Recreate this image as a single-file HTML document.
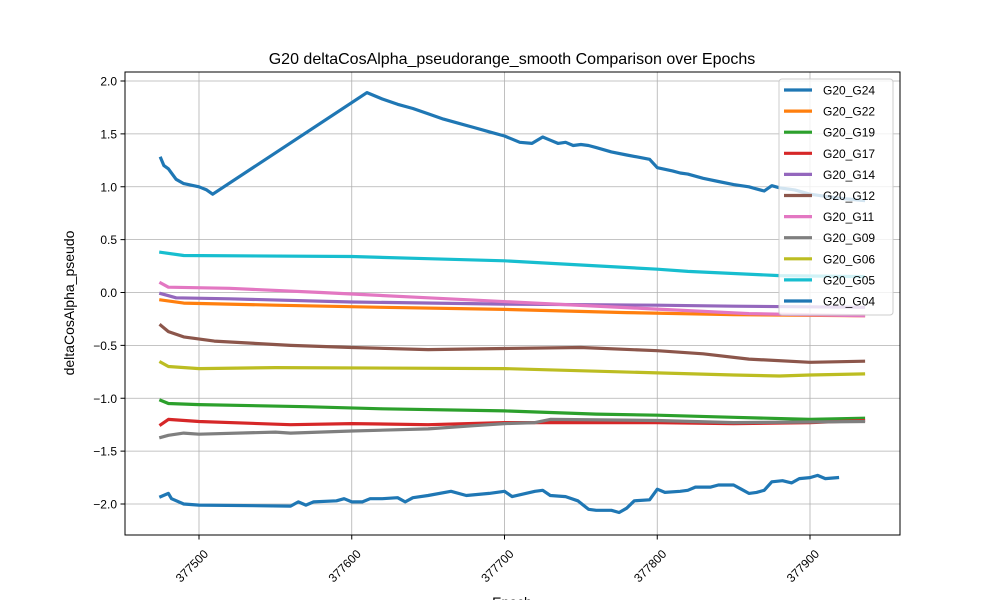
<!DOCTYPE html>
<html><head><meta charset="utf-8"><style>
body{margin:0;background:#fff;}
svg text{font-family:"Liberation Sans","DejaVu Sans",sans-serif;}
</style></head><body>
<svg id="chart" width="1000" height="600" xmlns="http://www.w3.org/2000/svg">
<rect width="1000" height="600" fill="#fff"/>
<text x="512" y="64" font-size="16" text-anchor="middle">G20 deltaCosAlpha_pseudorange_smooth Comparison over Epochs</text>
<g id="grid"></g><g id="series"></g>
<rect x="125" y="72" width="775" height="463" fill="none" stroke="#000" stroke-width="1"/>
<g id="axes"></g>
<text x="74" y="303" font-size="14" text-anchor="middle" transform="rotate(-90 74 303)">deltaCosAlpha_pseudo</text>
<text x="512" y="607" font-size="14" text-anchor="middle">Epoch</text>
<g id="legend"></g>
</svg>
<script>
const xTicks=[377500,377600,377700,377800,377900];
const yTicks=[2.0,1.5,1.0,0.5,0.0,-0.5,-1.0,-1.5,-2.0];
const seriesNames=["G20_G24","G20_G22","G20_G19","G20_G17","G20_G14","G20_G12","G20_G11","G20_G09","G20_G06","G20_G05","G20_G04"];
const seriesColors=["#1f77b4","#ff7f0e","#2ca02c","#d62728","#9467bd","#8c564b","#e377c2","#7f7f7f","#bcbd22","#17becf","#1f77b4"];
const g24E=[377475,377477,377480,377485,377490,377500,377505,377509,377610,377620,377630,377640,377650,377660,377670,377680,377690,377700,377710,377718,377725,377730,377735,377740,377745,377750,377755,377760,377770,377780,377795,377800,377810,377815,377820,377830,377840,377850,377860,377865,377870,377875,377880,377890,377900,377920,377935];
const g24V=[1.27,1.2,1.17,1.07,1.03,1.0,0.97,0.93,1.89,1.83,1.78,1.74,1.69,1.64,1.6,1.56,1.52,1.48,1.42,1.41,1.47,1.44,1.41,1.42,1.39,1.4,1.39,1.37,1.33,1.3,1.26,1.18,1.15,1.13,1.12,1.08,1.05,1.02,1.0,0.98,0.96,1.01,0.99,0.97,0.93,0.89,0.87];
const g22E=[377475,377490,377550,377620,377700,377780,377850,377935];
const g22V=[-0.07,-0.1,-0.12,-0.14,-0.16,-0.19,-0.21,-0.22];
const g19E=[377475,377480,377500,377570,377620,377700,377760,377800,377850,377900,377935];
const g19V=[-1.02,-1.05,-1.06,-1.08,-1.1,-1.12,-1.15,-1.16,-1.18,-1.2,-1.19];
const g17E=[377475,377480,377500,377560,377600,377650,377700,377800,377850,377900,377935];
const g17V=[-1.25,-1.2,-1.22,-1.25,-1.24,-1.25,-1.23,-1.23,-1.24,-1.23,-1.21];
const g14E=[377475,377485,377520,377600,377700,377800,377850,377935];
const g14V=[-0.01,-0.05,-0.06,-0.09,-0.11,-0.12,-0.13,-0.14];
const g12E=[377475,377480,377490,377510,377560,377600,377650,377700,377750,377800,377830,377860,377900,377935];
const g12V=[-0.31,-0.37,-0.42,-0.46,-0.5,-0.52,-0.54,-0.53,-0.52,-0.55,-0.58,-0.63,-0.66,-0.65];
const g11E=[377475,377480,377520,377580,377650,377720,377790,377860,377935];
const g11V=[0.09,0.05,0.04,0.0,-0.05,-0.1,-0.15,-0.2,-0.22];
const g09E=[377475,377480,377490,377500,377550,377560,377600,377650,377680,377700,377720,377730,377800,377850,377935];
const g09V=[-1.37,-1.35,-1.33,-1.34,-1.32,-1.33,-1.31,-1.29,-1.26,-1.24,-1.23,-1.2,-1.21,-1.23,-1.22];
const g06E=[377475,377480,377500,377550,377700,377800,377850,377880,377900,377935];
const g06V=[-0.66,-0.7,-0.72,-0.71,-0.72,-0.76,-0.78,-0.79,-0.78,-0.77];
const g05E=[377475,377490,377600,377650,377700,377750,377800,377820,377880,377935];
const g05V=[0.38,0.35,0.34,0.32,0.3,0.26,0.22,0.2,0.16,0.15];
const g04E=[377475,377480,377482,377490,377500,377560,377565,377570,377575,377590,377595,377600,377607,377612,377620,377630,377635,377640,377650,377665,377675,377690,377700,377705,377720,377725,377730,377740,377748,377755,377760,377770,377775,377780,377785,377795,377800,377805,377815,377820,377825,377835,377840,377850,377855,377860,377865,377870,377875,377882,377888,377893,377900,377905,377910,377918];
const g04V=[-1.93,-1.9,-1.95,-2.0,-2.01,-2.02,-1.98,-2.01,-1.98,-1.97,-1.95,-1.98,-1.98,-1.95,-1.95,-1.94,-1.98,-1.94,-1.92,-1.88,-1.92,-1.9,-1.88,-1.93,-1.88,-1.87,-1.92,-1.93,-1.97,-2.05,-2.06,-2.06,-2.08,-2.04,-1.97,-1.96,-1.86,-1.89,-1.88,-1.87,-1.84,-1.84,-1.82,-1.82,-1.86,-1.9,-1.89,-1.87,-1.79,-1.78,-1.8,-1.76,-1.75,-1.73,-1.76,-1.75];
const allE=[g24E,g22E,g19E,g17E,g14E,g12E,g11E,g09E,g06E,g05E,g04E];
const allV=[g24V,g22V,g19V,g17V,g14V,g12V,g11V,g09V,g06V,g05V,g04V];

const NS="http://www.w3.org/2000/svg";
function xs(e){return 199+(e-377500)*1.5275;}
function ys(v){return 292.5-v*105.75;}
function mk(tag,attrs,parent){const el=document.createElementNS(NS,tag);for(const k in attrs)el.setAttribute(k,attrs[k]);parent.appendChild(el);return el;}
const grid=document.getElementById('grid'),axes=document.getElementById('axes'),ser=document.getElementById('series'),leg=document.getElementById('legend');
xTicks.forEach(t=>{const x=xs(t);
 const gl=mk('line',{x1:x,x2:x,y1:72,y2:535,stroke:'#b0b0b0','stroke-width':0.8},grid);
 
 mk('line',{x1:x,x2:x,y1:535,y2:539.5,stroke:'#000'},axes);
 const cx=x-7,cy=566;
 const tx=mk('text',{x:cx,y:cy+4,'font-size':12,'text-anchor':'middle',transform:`rotate(-45 ${cx} ${cy})`},axes);
 tx.textContent=t;
 
});
yTicks.forEach(t=>{const y=ys(t);
 const gl=mk('line',{x1:125,x2:900,y1:y,y2:y,stroke:'#b0b0b0','stroke-width':0.8},grid);
 
 mk('line',{x1:120.5,x2:125,y1:y,y2:y,stroke:'#000'},axes);
 const tx=mk('text',{x:117,y:y+4.5,'font-size':12,'text-anchor':'end'},axes);
 tx.textContent=t.toFixed(1).replace('-','\u2212');
 
});
allE.forEach((E,i)=>{
 const d=E.map((e,j)=>(j?'L':'M')+xs(e).toFixed(1)+','+ys(allV[i][j]).toFixed(1)).join(' ');
 const p=mk('path',{d:d,fill:'none',stroke:seriesColors[i],'stroke-width':3.2,'stroke-linejoin':'round','stroke-linecap':'square'},ser);
 
 
});
const lb=mk('rect',{x:779,y:79,width:114,height:236,rx:3,fill:'#fff','fill-opacity':0.8,stroke:'#ccc'},leg);

seriesNames.forEach((n,i)=>{const y=90+i*21.1;
 const g=mk('g',{},leg);
 
 mk('line',{x1:784,x2:812,y1:y,y2:y,stroke:seriesColors[i],'stroke-width':3.2},g);
 const t=mk('text',{x:823,y:y+4.5,'font-size':12},g);t.textContent=n;
});
</script>
</body></html>
